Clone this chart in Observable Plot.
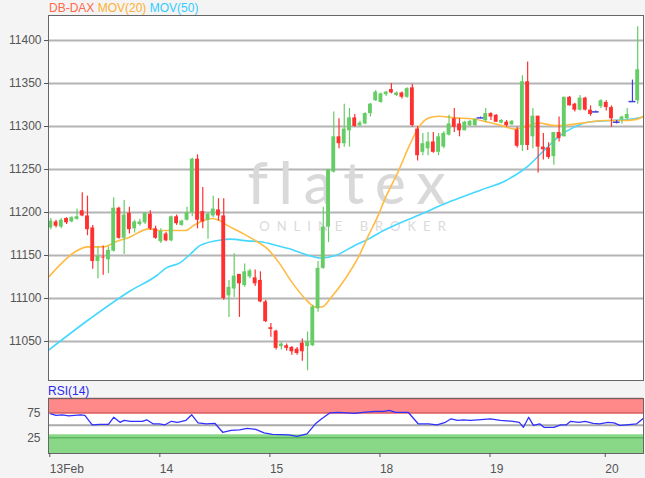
<!DOCTYPE html>
<html><head><meta charset="utf-8">
<script src="https://cdn.jsdelivr.net/npm/d3@7"></script>
<script src="https://cdn.jsdelivr.net/npm/@observablehq/plot@0.6"></script>
<style>
body{margin:0;background:#f4f4f4;font-family:"Liberation Sans",Arial,sans-serif;}
#wrap{position:relative;width:645px;height:478px;overflow:hidden;}
#main{position:absolute;left:0;top:0}
#rsi{position:absolute;left:0;top:385px}
.legend{position:absolute;left:49px;top:1px;font-size:12px;white-space:nowrap}
.rsilab{position:absolute;left:48px;top:384px;font-size:12px;color:#2a2aee}
</style></head><body>
<div id="wrap">
<div id="main"></div>
<div id="rsi"></div>
<div class="legend"><span style="color:#ff6a4d">DB-DAX</span> <span style="color:#ffb030">MOV(20)</span> <span style="color:#33ccff">MOV(50)</span></div>
<div class="rsilab">RSI(14)</div>
</div>
<script>
const opens = [11182,11189,11183,11193,11189,11192,11202,11196,11182,11143, 11148,11145,11155,11205,11170,11199,11181,11186,11188,11198, 11181,11166,11175,11167,11195,11185,11191,11200,11262,11201, 11191,11196,11203,11196,11103,11111,11128,11115,11125,11124, 11121,11096,11066,11062,11044,11045,11043,11041,11048,11044, 11045,11088,11135,11183,11247,11288,11280,11295,11310,11301, 11303,11315,11330,11328,11337,11343,11336,11339,11334,11345, 11297,11270,11274,11282,11270,11276,11290,11309,11303,11295, 11301,11301,11310,11307,11315,11313,11304,11305,11302,11296, 11278,11352,11288,11312,11276,11275,11265,11293,11288,11334, 11326,11319,11333,11319,11317,11323,11328,11322,11305,11308, 11309,11329,11330];
const highs = [11193,11191,11193,11194,11195,11204,11223,11219,11185,11160, 11161,11160,11217,11206,11214,11206,11191,11192,11200,11202, 11184,11181,11177,11196,11197,11191,11206,11263,11267,11229, 11200,11219,11216,11216,11121,11152,11128,11140,11134,11133, 11131,11098,11071,11063,11049,11047,11044,11043,11053,11061, 11092,11143,11206,11250,11317,11309,11326,11321,11314,11306, 11316,11327,11342,11339,11341,11350,11340,11340,11345,11349, 11300,11292,11293,11293,11292,11294,11313,11321,11309,11306, 11307,11309,11311,11321,11316,11314,11308,11307,11307,11299, 11359,11375,11321,11312,11292,11281,11293,11311,11334,11335, 11327,11336,11334,11324,11318,11331,11330,11324,11307,11312, 11321,11354,11416];
const lows = [11180,11182,11181,11186,11188,11191,11195,11173,11134,11123, 11127,11129,11154,11169,11151,11175,11176,11184,11186,11179, 11169,11164,11166,11166,11185,11184,11190,11195,11181,11181, 11169,11194,11190,11098,11078,11101,11078,11113,11123,11114, 11095,11072,11055,11040,11040,11039,11034,11034,11027,11016, 11044,11084,11134,11165,11246,11274,11276,11276,11299,11299, 11302,11311,11329,11327,11335,11338,11335,11332,11333,11299, 11260,11266,11266,11269,11266,11274,11289,11293,11288,11295, 11300,11300,11309,11305,11307,11305,11303,11299,11301,11275, 11271,11272,11274,11246,11261,11262,11255,11282,11288,11324, 11317,11318,11318,11312,11316,11321,11318,11299,11303,11303, 11308,11328,11326];
const closes = [11190,11184,11191,11188,11194,11195,11196,11180,11143,11149, 11147,11156,11205,11170,11197,11180,11189,11189,11199,11181, 11170,11178,11167,11195,11187,11190,11200,11262,11191,11189, 11198,11204,11196,11100,11113,11126,11117,11131,11132,11117, 11096,11073,11064,11042,11047,11042,11038,11036,11038,11050, 11090,11135,11183,11250,11288,11280,11297,11310,11300,11304, 11315,11326,11340,11338,11340,11339,11339,11334,11344,11301, 11266,11280,11282,11270,11288,11292,11303,11299,11295,11305, 11306,11308,11310,11315,11311,11305,11307,11301,11306,11277, 11352,11278,11312,11276,11273,11264,11293,11286,11334,11324, 11319,11333,11319,11314,11317,11330,11322,11309,11305,11311, 11314,11329,11366];

const mov20Idx = [-0.4,1.9,4.1,7,10.1,12.4,14.9,18.7,20.9,25.7, 27.3,28.9,30.8,32.1,33.7,36.2,39.4,41.3,43.5,46, 48.5,50.5,51.7,53.6,56.2,58.7,60.6,62.5,63.5,66.4, 68.3,70.2,72.1,74,77.2,80.3,83.5,86.1,88.6,91.2, 93.1,96.3,98.8,102.6,105.8,109,111.5,113.1];
const mov20Val = [11125,11140,11152,11160,11160,11166,11171,11181,11179,11179, 11185,11190,11193,11191,11185,11177,11166,11158,11142,11119, 11100,11090,11090,11102,11123,11148,11173,11197,11212,11249, 11276,11299,11310,11312,11310,11309,11305,11301,11297,11301, 11304,11301,11302,11305,11307,11307,11308,11312];
const mov50Idx = [-0.4,7.6,15.2,20.3,21.9,24.8,26.7,28.6,32.4,34.3, 37.5,40,42.9,45.4,49.2,51.4,54.3,58.1,60.6,63.5, 70.6,76.3,82,86.8,90.9,94.1,97.3,99.8,102.4,106.8, 111.3,113.1];
const mov50Val = [11040,11077,11109,11127,11135,11142,11152,11162,11168,11169, 11167,11166,11162,11158,11150,11147,11150,11162,11169,11179, 11198,11213,11226,11237,11253,11272,11290,11299,11305,11307, 11309,11311];

const rsiIdx = [0,1,2.2,3.4,5.7,6.5,7.9,9.3,11,12, 13.2,14,15.2,17.5,18.3,19.5,20.7,21.8,23,24.2, 25.8,26.9,28.1,29.7,31.3,32.8,34.4,36,37.5,39.1, 40.7,42.3,45.4,47,48.9,50.5,51.7,53.3,54.8,56.4, 58,59.5,61.9,63.5,64.6,65.8,68.2,70.1,72.1,73.7, 75.3,76.4,77.6,78.8,80,81.5,83.9,85.8,88.2,89.4, 90.2,91.2,92.1,93.3,94.1,96,97.3,98.4,99.2,100.8, 102,103.5,104.7,106.3,107.5,108.6,109.8,111.8,113.1];
const rsiVal = [73,70,71,69,71,70,51,52,52,66, 56,60,58,58,61,53,53,51,58,56, 60,71,55,53,54,36,40,41,44,42, 35,32,31,28,33,53,63,75,76,75, 74,76,78,78,80,76,76,53,53,51, 56,63,60,61,60,61,63,60,58,56, 46,66,50,53,46,46,51,51,58,56, 58,54,53,56,55,50,51,53,64];

const priceTicks = [11050,11100,11150,11200,11250,11300,11350,11400];
const rsiTicks = [25,75];
const dayIdx = [0,21,42,63,84,106];
const dayLabels = ["13Feb","14","15","18","19","20"];

const candles = opens.map((o,i)=>({i,o,h:highs[i],l:lows[i],c:closes[i]}));
const kindColor = d => d.c > d.o ? "#66cc66" : d.c < d.o ? "#ff3030" : "#4040dd";
const bodies = candles.filter(d => d.c !== d.o);
const dojis = candles.filter(d => d.c === d.o);
const mov20 = mov20Idx.map((x,k)=>({x, y: mov20Val[k]}));
const mov50 = mov50Idx.map((x,k)=>({x, y: mov50Val[k]}));
const rsi = rsiIdx.map((x,k)=>({x, y: rsiVal[k]}));

const xDom = [-0.44, 113.11];
const hw = 0.37;
const font = {fontSize:"12px", fontFamily:"Liberation Sans, Arial, sans-serif", background:"transparent", overflow:"visible", color:"#555"};

const main = Plot.plot({
  width:645, height:385, marginTop:15, marginBottom:5, marginLeft:48, marginRight:2,
  style: font,
  x:{domain:xDom, axis:null},
  y:{domain:[11004.6,11429.1]},
  marks:[
    Plot.frame({fill:"white"}),
    Plot.ruleY(priceTicks,{stroke:"#b4b4b4", strokeWidth:2}),
    Plot.text(["flatex"],{frameAnchor:"middle", dx:6, dy:-13, fontSize:58, fill:"#d9d9d9", fontFamily:"Lato, sans-serif", fontWeight:500}),
    Plot.text(["ONLINE BROKER"],{frameAnchor:"middle", dx:10, dy:29, fontSize:13, fill:"#dadada", fontFamily:"Lato, sans-serif"}),
    Plot.line(mov50,{x:"x", y:"y", stroke:"#44d8ff", strokeWidth:1.6, curve:"monotone-x"}),
    Plot.line(mov20,{x:"x", y:"y", stroke:"#ffbb44", strokeWidth:1.6, curve:"monotone-x"}),
    Plot.ruleX(candles,{x:"i", y1:"l", y2:"h", stroke:kindColor, strokeWidth:1.2}),
    Plot.rect(bodies,{x1:d=>d.i-hw, x2:d=>d.i+hw, y1:"o", y2:"c", fill:kindColor}),
    Plot.ruleY(dojis,{y:"o", x1:d=>d.i-0.65, x2:d=>d.i+0.65, stroke:"#4040dd", strokeWidth:1.5}),
    Plot.frame({stroke:"#666"}),
    Plot.axisY({ticks:priceTicks, tickSize:4, tickPadding:3, tickFormat:d=>String(d), fill:"#555", label:null})
  ]
});
document.getElementById("main").appendChild(main);
d3.select(main).selectAll("text").filter(function(){return this.textContent==="ONLINE BROKER";}).attr("letter-spacing","7px");
d3.select(main).selectAll("text").filter(function(){return this.textContent==="flatex";}).attr("letter-spacing","11px");

const rsiTop = 103.6, rsiBot = -6.4;
const bands = [
  {y1:72, y2:rsiTop, fill:"#ff8888"},
  {y1:rsiBot, y2:31, fill:"#88d888"}
];
const rsiPlot = Plot.plot({
  width:645, height:93, marginTop:13, marginBottom:25, marginLeft:48, marginRight:2,
  style: font,
  x:{domain:xDom, label:null},
  y:{domain:[rsiBot, rsiTop], label:null},
  marks:[
    Plot.frame({fill:"white"}),
    Plot.rect(bands,{x1:xDom[0], x2:xDom[1], y1:"y1", y2:"y2", fill:"fill"}),
    Plot.ruleY([75],{stroke:"#d86a6a", strokeWidth:1.5}),
    Plot.ruleY([rsiTop],{stroke:"#c05a5a", strokeWidth:1.5}),
    Plot.ruleY([25],{stroke:"#5fb85f", strokeWidth:1.5}),
    Plot.ruleY([50],{stroke:"#aaaaaa", strokeWidth:2}),
    Plot.line(rsi,{x:"x", y:"y", stroke:"#3030ff", strokeWidth:1.3}),
    Plot.frame({stroke:"#666"}),
    Plot.axisY({ticks:rsiTicks, tickSize:0, tickPadding:8, fill:"#555", label:null}),
    Plot.axisX({ticks:dayIdx, tickSize:4, tickPadding:7, tickFormat:(d)=>dayLabels[dayIdx.indexOf(d)], textAnchor:"start", dx:-1, fill:"#555", label:null})
  ]
});
document.getElementById("rsi").appendChild(rsiPlot);
</script>
</body></html>
